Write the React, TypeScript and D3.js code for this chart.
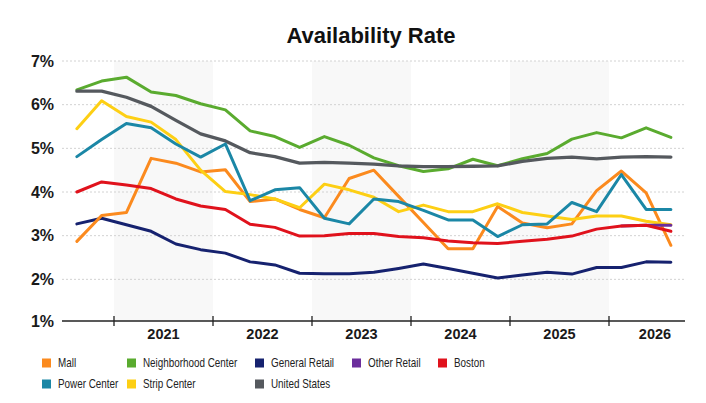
import React, { useEffect, useRef } from "react"
import * as d3 from "d3"

// Quarterly availability, Q3 2020 through Q3 2026
const quarters: string[] = [
    "2020Q3", "2020Q4",
    "2021Q1", "2021Q2", "2021Q3", "2021Q4",
    "2022Q1", "2022Q2", "2022Q3", "2022Q4",
    "2023Q1", "2023Q2", "2023Q3", "2023Q4",
    "2024Q1", "2024Q2", "2024Q3", "2024Q4",
    "2025Q1", "2025Q2", "2025Q3", "2025Q4",
    "2026Q1", "2026Q2", "2026Q3",
]

const mall = [2.87, 3.46, 3.53, 4.77, 4.66, 4.46, 4.51, 3.78, 3.84, 3.6, 3.41, 4.31, 4.5, 3.9, 3.3, 2.7, 2.7, 3.67, 3.29, 3.18, 3.27, 4.03, 4.48, 3.98, 2.78]
const powerCenter = [4.81, 5.2, 5.57, 5.47, 5.1, 4.8, 5.1, 3.8, 4.05, 4.1, 3.4, 3.27, 3.84, 3.78, 3.58, 3.36, 3.36, 2.98, 3.25, 3.27, 3.76, 3.55, 4.4, 3.6, 3.6]
const neighborhoodCenter = [6.34, 6.54, 6.63, 6.29, 6.21, 6.02, 5.88, 5.4, 5.27, 5.02, 5.27, 5.07, 4.78, 4.6, 4.47, 4.53, 4.75, 4.6, 4.76, 4.88, 5.21, 5.36, 5.24, 5.47, 5.25]
const stripCenter = [5.45, 6.09, 5.73, 5.6, 5.2, 4.5, 4.01, 3.94, 3.84, 3.64, 4.18, 4.05, 3.88, 3.55, 3.7, 3.55, 3.55, 3.73, 3.53, 3.45, 3.37, 3.45, 3.45, 3.33, 3.25]
const generalRetail = [3.27, 3.4, 3.25, 3.1, 2.81, 2.68, 2.6, 2.4, 2.33, 2.14, 2.13, 2.13, 2.16, 2.25, 2.35, 2.25, 2.14, 2.03, 2.1, 2.16, 2.12, 2.27, 2.27, 2.4, 2.39]
const unitedStates = [6.31, 6.31, 6.17, 5.96, 5.64, 5.33, 5.17, 4.9, 4.81, 4.66, 4.68, 4.66, 4.64, 4.6, 4.58, 4.58, 4.59, 4.6, 4.7, 4.77, 4.8, 4.76, 4.8, 4.81, 4.8]
const otherRetail: (number | null)[] = [null, null, null, null, null, null, null, null, null, null, null, null, null, null, null, null, null, null, null, null, null, null, 3.22, 3.24, 3.24]
const boston = [4.0, 4.23, 4.16, 4.08, 3.84, 3.68, 3.6, 3.26, 3.19, 2.99, 3.0, 3.05, 3.05, 2.98, 2.95, 2.88, 2.84, 2.82, 2.87, 2.92, 2.99, 3.15, 3.22, 3.24, 3.1]

const seriesNames = ["Mall", "Power Center", "Neighborhood Center", "Strip Center", "General Retail", "United States", "Other Retail", "Boston"]
const seriesValues: (number | null)[][] = [mall, powerCenter, neighborhoodCenter, stripCenter, generalRetail, unitedStates, otherRetail, boston]
const seriesColors = ["#fb8a1e", "#1b87a6", "#5aab2f", "#fdcf14", "#16226f", "#55595e", "#6b2d9c", "#e0121c"]

const yTicks = [1, 2, 3, 4, 5, 6, 7]
const yearTicks = [2021, 2022, 2023, 2024, 2025, 2026]
const shadedYears = [2021, 2023, 2025]

const FONT = "'Liberation Sans', Arial, Helvetica, sans-serif"

function quarterToYear(q: string) {
    const year = parseInt(q.slice(0, 4), 10)
    const qi = parseInt(q.slice(5), 10)
    return year + (qi - 0.5) / 4
}

const App = () => {
    const svgRef = useRef<SVGSVGElement | null>(null)

    useEffect(() => {
        if (!svgRef.current) return
        const svg = d3.select(svgRef.current)
        svg.selectAll("*").remove()

        const width = 706
        const height = 403
        const plotLeft = 62
        const plotRight = 685
        const axisY = 321

        svg.append("rect").attr("width", width).attr("height", height).attr("fill", "#ffffff")

        const x = d3.scaleLinear().domain([2021, 2026]).range([114, 609])
        const y = d3.scaleLinear().domain([1, 7]).range([323, 61])

        // alternating year bands
        svg.append("g")
            .selectAll("rect")
            .data(shadedYears)
            .enter()
            .append("rect")
            .attr("x", (d) => x(d))
            .attr("y", y(7))
            .attr("width", (d) => x(d + 1) - x(d))
            .attr("height", axisY - y(7))
            .attr("fill", "#f8f8f8")

        // dotted gridlines
        svg.append("g")
            .selectAll("line")
            .data(yTicks.filter((d) => d > 1))
            .enter()
            .append("line")
            .attr("x1", plotLeft)
            .attr("x2", plotRight)
            .attr("y1", (d) => y(d))
            .attr("y2", (d) => y(d))
            .attr("stroke", "#d2d2d2")
            .attr("stroke-width", 1)
            .attr("stroke-dasharray", "2,2")

        // y labels
        svg.append("g")
            .selectAll("text")
            .data(yTicks)
            .enter()
            .append("text")
            .attr("x", 54)
            .attr("y", (d) => (d === 1 ? axisY : y(d)))
            .attr("dy", "0.36em")
            .attr("text-anchor", "end")
            .attr("font-family", FONT)
            .attr("font-size", 16)
            .attr("font-weight", 700)
            .attr("fill", "#1a1a1a")
            .text((d) => d + "%")

        // x axis
        svg.append("line")
            .attr("x1", plotLeft)
            .attr("x2", plotRight)
            .attr("y1", axisY)
            .attr("y2", axisY)
            .attr("stroke", "#222")
            .attr("stroke-width", 1.3)

        svg.append("g")
            .selectAll("line")
            .data(yearTicks)
            .enter()
            .append("line")
            .attr("x1", (d) => x(d))
            .attr("x2", (d) => x(d))
            .attr("y1", axisY - 5)
            .attr("y2", axisY + 5)
            .attr("stroke", "#222")
            .attr("stroke-width", 1.3)

        svg.append("g")
            .selectAll("text")
            .data(yearTicks)
            .enter()
            .append("text")
            .attr("x", (d) => Math.min(x(d + 0.5), 655))
            .attr("y", 339)
            .attr("text-anchor", "middle")
            .attr("font-family", FONT)
            .attr("font-size", 14.5)
            .attr("font-weight", 700)
            .attr("fill", "#1a1a1a")
            .text((d) => String(d))

        // series lines
        const xs = quarters.map(quarterToYear)
        const line = d3
            .line<number | null>()
            .defined((d) => d !== null)
            .x((_, i) => x(xs[i]))
            .y((d) => y(d as number))
            .curve(d3.curveLinear)

        // draw order so the reference lines sit on top
        const drawOrder = [2, 5, 4, 0, 3, 1, 6, 7]
        svg.append("g")
            .selectAll("path")
            .data(drawOrder)
            .enter()
            .append("path")
            .attr("d", (k) => line(seriesValues[k]))
            .attr("fill", "none")
            .attr("stroke", (k) => seriesColors[k])
            .attr("stroke-width", (k) => (k === 5 ? 3.3 : 3))
            .attr("stroke-linejoin", "round")
            .attr("stroke-linecap", "round")

        // title
        svg.append("text")
            .attr("x", 371)
            .attr("y", 43)
            .attr("text-anchor", "middle")
            .attr("font-family", FONT)
            .attr("font-size", 22)
            .attr("font-weight", 700)
            .attr("fill", "#111")
            .text("Availability Rate")

        // legend, laid out column by column; labels squeezed horizontally
        const legendCols = [42, 127, 255, 352, 438]
        const legendSlots: [number, number][] = [[0, 0], [0, 1], [1, 0], [1, 1], [2, 0], [2, 1], [3, 0], [4, 0]]
        const squeeze = 0.79
        const legend = svg.append("g")
            .selectAll("g")
            .data(seriesNames)
            .enter()
            .append("g")
            .attr("transform", (_, i) => {
                const [c, r] = legendSlots[i]
                return "translate(" + legendCols[c] + "," + (363 + r * 21) + ")"
            })
        legend.append("rect")
            .attr("x", 0)
            .attr("y", -4.5)
            .attr("width", 9)
            .attr("height", 9)
            .attr("fill", (_, i) => seriesColors[i])
        legend.append("text")
            .attr("transform", "translate(16,0) scale(" + squeeze + ",1)")
            .attr("dy", "0.35em")
            .attr("font-family", FONT)
            .attr("font-size", 12.5)
            .attr("fill", "#222")
            .text((d) => d)
    }, [])

    return (
        <svg
            ref={svgRef}
            width={706}
            height={403}
            style={{ position: "absolute", left: 0, top: 0, display: "block" }}
        />
    )
}

export default App
